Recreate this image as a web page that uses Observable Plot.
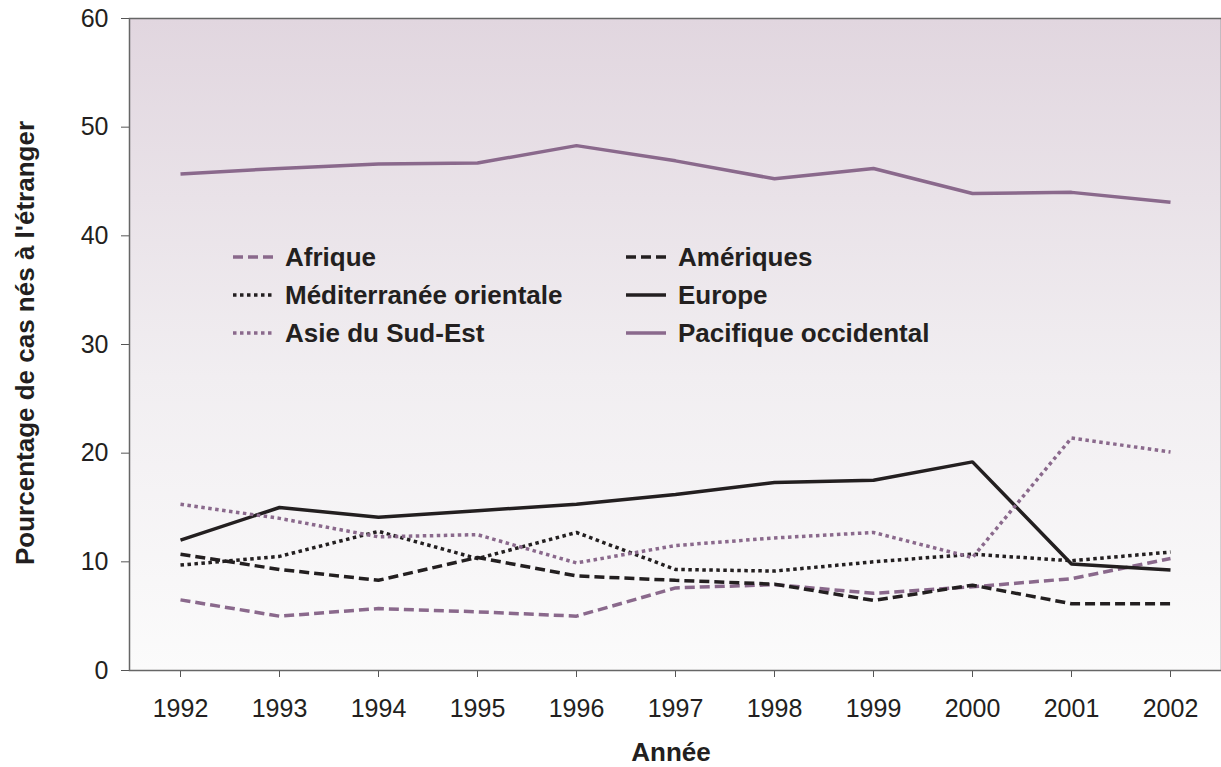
<!DOCTYPE html>
<html><head><meta charset="utf-8">
<script src="https://cdn.jsdelivr.net/npm/d3@7"></script>
<script src="https://cdn.jsdelivr.net/npm/@observablehq/plot@0.6"></script>
<style>
body{margin:0;background:#fff;font-family:"Liberation Sans",Arial,sans-serif;color:#231f20;}
#wrap{position:relative;width:1221px;height:767px;overflow:hidden;}
.ttl{position:absolute;font-weight:bold;font-size:26px;white-space:nowrap;line-height:1;}
.leg{position:absolute;display:flex;align-items:center;font-weight:bold;font-size:26px;white-space:nowrap;line-height:1;}
.leg svg{margin-right:12px;}
</style></head><body><div id="wrap"></div>
<script>
const years = [1992,1993,1994,1995,1996,1997,1998,1999,2000,2001,2002];
const regions = ["Afrique","Amériques","Méditerranée orientale","Europe","Asie du Sud-Est","Pacifique occidental"];
const afrique      = [6.5,5.0,5.7,5.4,5.0,7.6,7.9,7.1,7.7,8.45,10.3];
const ameriques    = [10.7,9.3,8.3,10.4,8.7,8.3,7.95,6.45,7.85,6.15,6.15];
const mediterranee = [9.7,10.5,12.8,10.3,12.7,9.3,9.15,10.0,10.7,10.1,10.9];
const europe       = [12.0,15.0,14.1,14.7,15.3,16.2,17.3,17.5,19.2,9.8,9.25];
const asieSE       = [15.3,14.0,12.3,12.5,9.9,11.5,12.2,12.7,10.4,21.4,20.1];
const pacifique    = [45.7,46.2,46.6,46.7,48.3,46.9,45.25,46.2,43.9,44.0,43.1];
const yTicks = [0,10,20,30,40,50,60];
const valuesByRegion = [afrique, ameriques, mediterranee, europe, asieSE, pacifique];

const PURPLE = "#8a698c", BLACK = "#231f20";
const styles = {
  "Afrique": {stroke: PURPLE, dash: "10,5"},
  "Amériques": {stroke: BLACK, dash: "10,5"},
  "Méditerranée orientale": {stroke: BLACK, dash: "3.5,3.5"},
  "Europe": {stroke: BLACK, dash: null},
  "Asie du Sud-Est": {stroke: PURPLE, dash: "3.5,3.5"},
  "Pacifique occidental": {stroke: PURPLE, dash: null}
};

const rows = regions.flatMap((r, k) => years.map((y, i) => ({region: r, year: y, value: valuesByRegion[k][i]})));

const chart = Plot.plot({
  width: 1221, height: 767,
  marginLeft: 129, marginRight: 0, marginTop: 18, marginBottom: 97,
  style: {fontFamily: '"Liberation Sans", Arial, sans-serif', color: BLACK, background: "transparent"},
  x: {type: "point", domain: years, padding: 0.5},
  y: {domain: [0, 60]},
  marks: [
    Plot.frame({fill: "url(#bg)", stroke: null}),
    Plot.axisY({ticks: yTicks, tickSize: 8, tickPadding: 13, fontSize: 25, label: null, stroke: "#555"}),
    Plot.axisX({tickSize: 7, tickPadding: 22, fontSize: 25, label: null, tickFormat: d => String(d), stroke: "#555"}),
    ...regions.map(r => Plot.line(rows.filter(d => d.region === r), {
      x: "year", y: "value", stroke: styles[r].stroke, strokeWidth: 3.5,
      strokeDasharray: styles[r].dash || undefined, strokeLinejoin: "miter", strokeLinecap: "butt"
    })),
    Plot.frame({stroke: "#666", strokeWidth: 1.5})
  ]
});

const svg = d3.select(chart);
const grad = svg.insert("defs", ":first-child").append("linearGradient")
  .attr("id", "bg").attr("x1", 0).attr("y1", 0).attr("x2", 0).attr("y2", 1);
grad.append("stop").attr("offset", "0%").attr("stop-color", "#e1d6df");
grad.append("stop").attr("offset", "55%").attr("stop-color", "#f1eef1");
grad.append("stop").attr("offset", "100%").attr("stop-color", "#fbfbfb");

const wrap = document.getElementById("wrap");
wrap.appendChild(chart);

// axis titles
const yt = document.createElement("div");
yt.className = "ttl";
yt.textContent = "Pourcentage de cas nés à l'étranger";
yt.style.left = "25px"; yt.style.top = "343px";
yt.style.transform = "translate(-50%,-50%) rotate(-90deg)";
wrap.appendChild(yt);
const xt = document.createElement("div");
xt.className = "ttl";
xt.textContent = "Année";
xt.style.left = "671px"; xt.style.top = "739px";
xt.style.transform = "translateX(-50%)";
wrap.appendChild(xt);

// legend (two columns, three rows)
const legendOrder = ["Afrique","Amériques","Méditerranée orientale","Europe","Asie du Sud-Est","Pacifique occidental"];
const colX = [233, 626], rowY = [257, 295, 333];
legendOrder.forEach((r, i) => {
  const d = document.createElement("div");
  d.className = "leg";
  d.style.left = colX[i % 2] + "px";
  d.style.top = (rowY[Math.floor(i / 2)] - 14) + "px";
  d.style.height = "28px";
  const s = styles[r];
  d.innerHTML = `<svg width="40" height="6"><line x1="0" x2="40" y1="3" y2="3" stroke="${s.stroke}" stroke-width="3.5" ${s.dash ? `stroke-dasharray="${s.dash}"` : ""}/></svg><span>${r}</span>`;
  wrap.appendChild(d);
});
</script></body></html>
